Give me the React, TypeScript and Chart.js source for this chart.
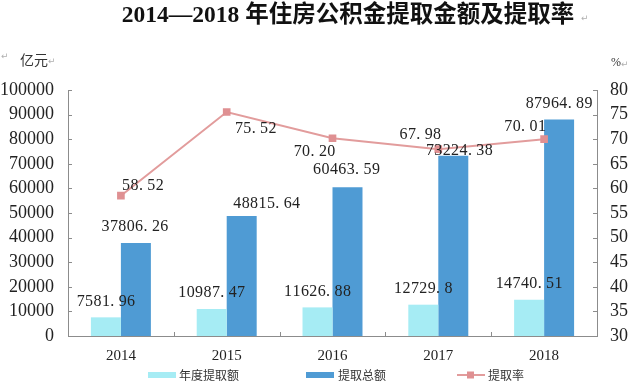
import React, { useEffect, useRef } from "react";
import { Chart, registerables } from "chart.js";

Chart.register(...registerables);

const titleText = "2014—2018 年住房公积金提取金额及提取率";
const leftUnit = "亿元";
const rightUnit = "%";
const years = ["2014", "2015", "2016", "2017", "2018"];
const annualWithdrawal = [7581.96, 10987.47, 11626.88, 12729.8, 14740.51];
const totalWithdrawal = [37806.26, 48815.64, 60463.59, 73224.38, 87964.89];
const withdrawalRate = [58.52, 75.52, 70.2, 67.98, 70.01];
const seriesNames = ["年度提取额", "提取总额", "提取率"];

// label offsets (styling, in px relative to the mark)
const totalLabelOffsets = [[-1, -16], [25, -12], [-1, -17], [6, -5], [0, -16]];
const rateLabelOffsets = [[22, -10], [29, 17], [-18, 14], [-18, -14], [-19, -12]];

const LIGHT = "#a6ecf4";
const DARK = "#4f9bd4";
const LINE = "#e29c9c";
const MARK = "#df9092";
const AXIS = "#8c8c8c";
const TEXT = "#222222";
const SERIF = "'Liberation Serif', 'Noto Sans CJK SC', serif";
const CJK = "'Noto Sans CJK SC', sans-serif";

function drawMono(ctx: CanvasRenderingContext2D, text: string, cx: number, cy: number, adv: number) {
  const w = text.length * adv;
  let x = cx - w / 2 + adv / 2;
  ctx.textAlign = "center";
  ctx.textBaseline = "middle";
  for (const ch of text) {
    ctx.fillText(ch, ch === "." ? x - 2 : x, cy);
    x += adv;
  }
}

const decorPlugin = {
  id: "decor",
  afterDraw(chart: any) {
    const ctx: CanvasRenderingContext2D = chart.ctx;
    const area = chart.chartArea;
    const xs = chart.scales.x;
    const ys = chart.scales.y;
    const y1 = chart.scales.y1;
    ctx.save();
    // tick marks (inward)
    ctx.strokeStyle = AXIS;
    ctx.lineWidth = 1;
    ctx.beginPath();
    ys.ticks.forEach((t: any) => {
      const py = Math.round(ys.getPixelForValue(t.value)) + 0.5;
      ctx.moveTo(area.left, py);
      ctx.lineTo(area.left + 4, py);
    });
    y1.ticks.forEach((t: any) => {
      const py = Math.round(y1.getPixelForValue(t.value)) + 0.5;
      ctx.moveTo(area.right, py);
      ctx.lineTo(area.right - 4, py);
    });
    const n = years.length;
    for (let i = 1; i < n; i++) {
      const px = Math.round((xs.getPixelForValue(i - 1) + xs.getPixelForValue(i)) / 2) + 0.5;
      ctx.moveTo(px, area.bottom);
      ctx.lineTo(px, area.bottom - 4);
    }
    ctx.stroke();

    // data labels
    ctx.fillStyle = TEXT;
    ctx.font = `16px ${SERIF}`;
    const m0 = chart.getDatasetMeta(0);
    const m1 = chart.getDatasetMeta(1);
    const m2 = chart.getDatasetMeta(2);
    m0.data.forEach((el: any, i: number) => {
      drawMono(ctx, String(annualWithdrawal[i]), el.x, el.y - 16, 8.4);
    });
    m1.data.forEach((el: any, i: number) => {
      const [dx, dy] = totalLabelOffsets[i];
      drawMono(ctx, totalWithdrawal[i].toFixed(2), el.x + dx, el.y + dy, 8.4);
    });
    m2.data.forEach((el: any, i: number) => {
      const [dx, dy] = rateLabelOffsets[i];
      drawMono(ctx, withdrawalRate[i].toFixed(2), el.x + dx, el.y + dy, 8.4);
    });

    // title
    ctx.fillStyle = "#111";
    ctx.font = `bold 23.5px ${SERIF}`;
    ctx.textAlign = "center";
    ctx.textBaseline = "middle";
    ctx.fillText(titleText, 348, 16);

    // units
    ctx.font = `14px ${CJK}`;
    ctx.textAlign = "left";
    ctx.fillStyle = "#333";
    ctx.fillText(leftUnit, 20, 60);
    ctx.font = `12px ${SERIF}`;
    ctx.fillText(rightUnit, 611, 63);

    // paragraph marks
    ctx.fillStyle = "#b0b0b0";
    ctx.font = `9px 'DejaVu Sans', sans-serif`;
    ctx.fillText("↵", 581, 19);
    ctx.fillText("↵", 1, 57);
    ctx.fillText("↵", 48, 62);
    ctx.fillText("↵", 621, 65);

    // legend
    const ly = 375;
    ctx.font = `12px ${CJK}`;
    ctx.textBaseline = "middle";
    ctx.fillStyle = LIGHT;
    ctx.fillRect(148, ly - 3, 28, 6);
    ctx.fillStyle = DARK;
    ctx.fillRect(306, ly - 3, 28, 6);
    ctx.strokeStyle = LINE;
    ctx.lineWidth = 2;
    ctx.beginPath();
    ctx.moveTo(457, ly);
    ctx.lineTo(485, ly);
    ctx.stroke();
    ctx.fillStyle = MARK;
    ctx.fillRect(467, ly - 3.5, 7, 7);
    ctx.fillStyle = "#333";
    ctx.fillText(seriesNames[0], 179, ly);
    ctx.fillText(seriesNames[1], 338, ly);
    ctx.fillText(seriesNames[2], 488, ly);
    ctx.restore();
  },
};

export default function App() {
  const ref = useRef<HTMLCanvasElement>(null);
  useEffect(() => {
    document.body.style.margin = "0";
    const canvas = ref.current!;
    const chart = new Chart(canvas, {
      type: "bar",
      data: {
        labels: years,
        datasets: [
          {
            type: "bar",
            label: seriesNames[0],
            data: annualWithdrawal,
            backgroundColor: LIGHT,
            yAxisID: "y",
            barPercentage: 1,
            categoryPercentage: 0.567,
            order: 2,
          },
          {
            type: "bar",
            label: seriesNames[1],
            data: totalWithdrawal,
            backgroundColor: DARK,
            yAxisID: "y",
            barPercentage: 1,
            categoryPercentage: 0.567,
            order: 2,
          },
          {
            type: "line",
            label: seriesNames[2],
            data: withdrawalRate,
            borderColor: LINE,
            borderWidth: 2,
            backgroundColor: MARK,
            pointBackgroundColor: MARK,
            pointBorderColor: MARK,
            pointStyle: "rect",
            pointRadius: 4,
            yAxisID: "y1",
            tension: 0,
            order: 0,
          } as any,
        ],
      },
      options: {
        responsive: false,
        animation: false,
        layout: { padding: { top: 90, left: 0, right: 0, bottom: 0 } },
        plugins: {
          legend: { display: false },
          title: { display: false },
          tooltip: { enabled: false },
        },
        scales: {
          x: {
            grid: { display: false, drawTicks: false },
            border: { display: true, color: AXIS },
            ticks: { font: { family: SERIF, size: 15 }, color: TEXT, padding: 11 },
            afterFit: (s: any) => {
              s.height = 54;
            },
          },
          y: {
            position: "left",
            min: 0,
            max: 100000,
            grid: { display: false, drawTicks: false },
            border: { display: true, color: AXIS },
            ticks: {
              stepSize: 10000,
              font: { family: SERIF, size: 18 },
              color: TEXT,
              padding: 14,
              callback: (v: any) => String(v),
            },
            afterFit: (s: any) => {
              s.width = 68;
            },
          },
          y1: {
            position: "right",
            min: 30,
            max: 80,
            grid: { display: false, drawTicks: false },
            border: { display: true, color: AXIS },
            ticks: {
              stepSize: 5,
              font: { family: SERIF, size: 18 },
              color: TEXT,
              padding: 13,
            },
            afterFit: (s: any) => {
              s.width = 43;
            },
          },
        },
      } as any,
      plugins: [decorPlugin],
    });
    return () => chart.destroy();
  }, []);
  return (
    <div style={{ width: 640, height: 390, background: "#fff" }}>
      <canvas ref={ref} width={640} height={390} />
    </div>
  );
}
